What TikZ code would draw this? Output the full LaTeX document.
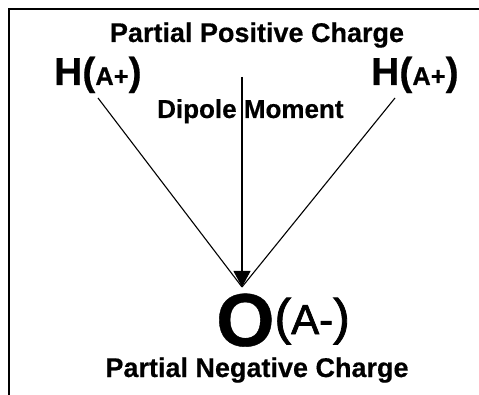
\documentclass[tikz,border=0pt]{standalone}
\usepackage{fontspec}
\setmainfont{Liberation Sans}
\newfontfamily\heavyfont[FakeBold=0.5]{Liberation Sans Bold}
\newfontfamily\medfont[FakeBold=1.6]{Liberation Sans}
\usetikzlibrary{arrows.meta}
\tikzset{
  lbl/.style={font=\heavyfont\fontsize{27}{30}\selectfont, inner sep=0pt, anchor=base},
  atom/.style={inner sep=0pt, anchor=base west},
  bond/.style={line width=1.1pt},
  frame/.style={line width=1.4pt}
}
\newcommand{\hplus}{{\heavyfont\fontsize{39}{40}\selectfont H(}{\heavyfont\fontsize{25.5}{28}\selectfont A+}{\heavyfont\fontsize{39}{40}\selectfont )}}
\begin{document}
\begin{tikzpicture}[x=1pt,y=-1pt]
\useasboundingbox (0,0) rectangle (479,395);
\draw[frame] (9,395) -- (9,9) -- (479,9);
\node[lbl] (pos) at (257,42) {Partial Positive Charge};
\node[lbl] (neg) at (257,377) {Partial Negative Charge};
\node[lbl, anchor=base west, font=\heavyfont\fontsize{26}{28}\selectfont] (dip) at (157,118) {Dipole Moment};
\node[atom] (hl) at (54,85) {\hplus};
\node[atom] (hr) at (371,85) {\hplus};
\node[atom] (o) at (216,346) {{\heavyfont\fontsize{75}{76}\selectfont O}\raisebox{12pt}{{\medfont\fontsize{50}{52}\selectfont (}{\medfont\fontsize{42}{44}\selectfont A-}{\medfont\fontsize{50}{52}\selectfont )}}};
\coordinate (hlend) at (98,98);
\coordinate (hrend) at (395,98);
\coordinate (dtop) at (242,77);
\coordinate (otop) at (242,287);
\draw[bond] (hlend) -- (otop);
\draw[bond] (hrend) -- (otop);
\draw[bond, -{Triangle[width=17pt,length=16pt]}] (dtop) -- (otop);
\end{tikzpicture}
\end{document}
